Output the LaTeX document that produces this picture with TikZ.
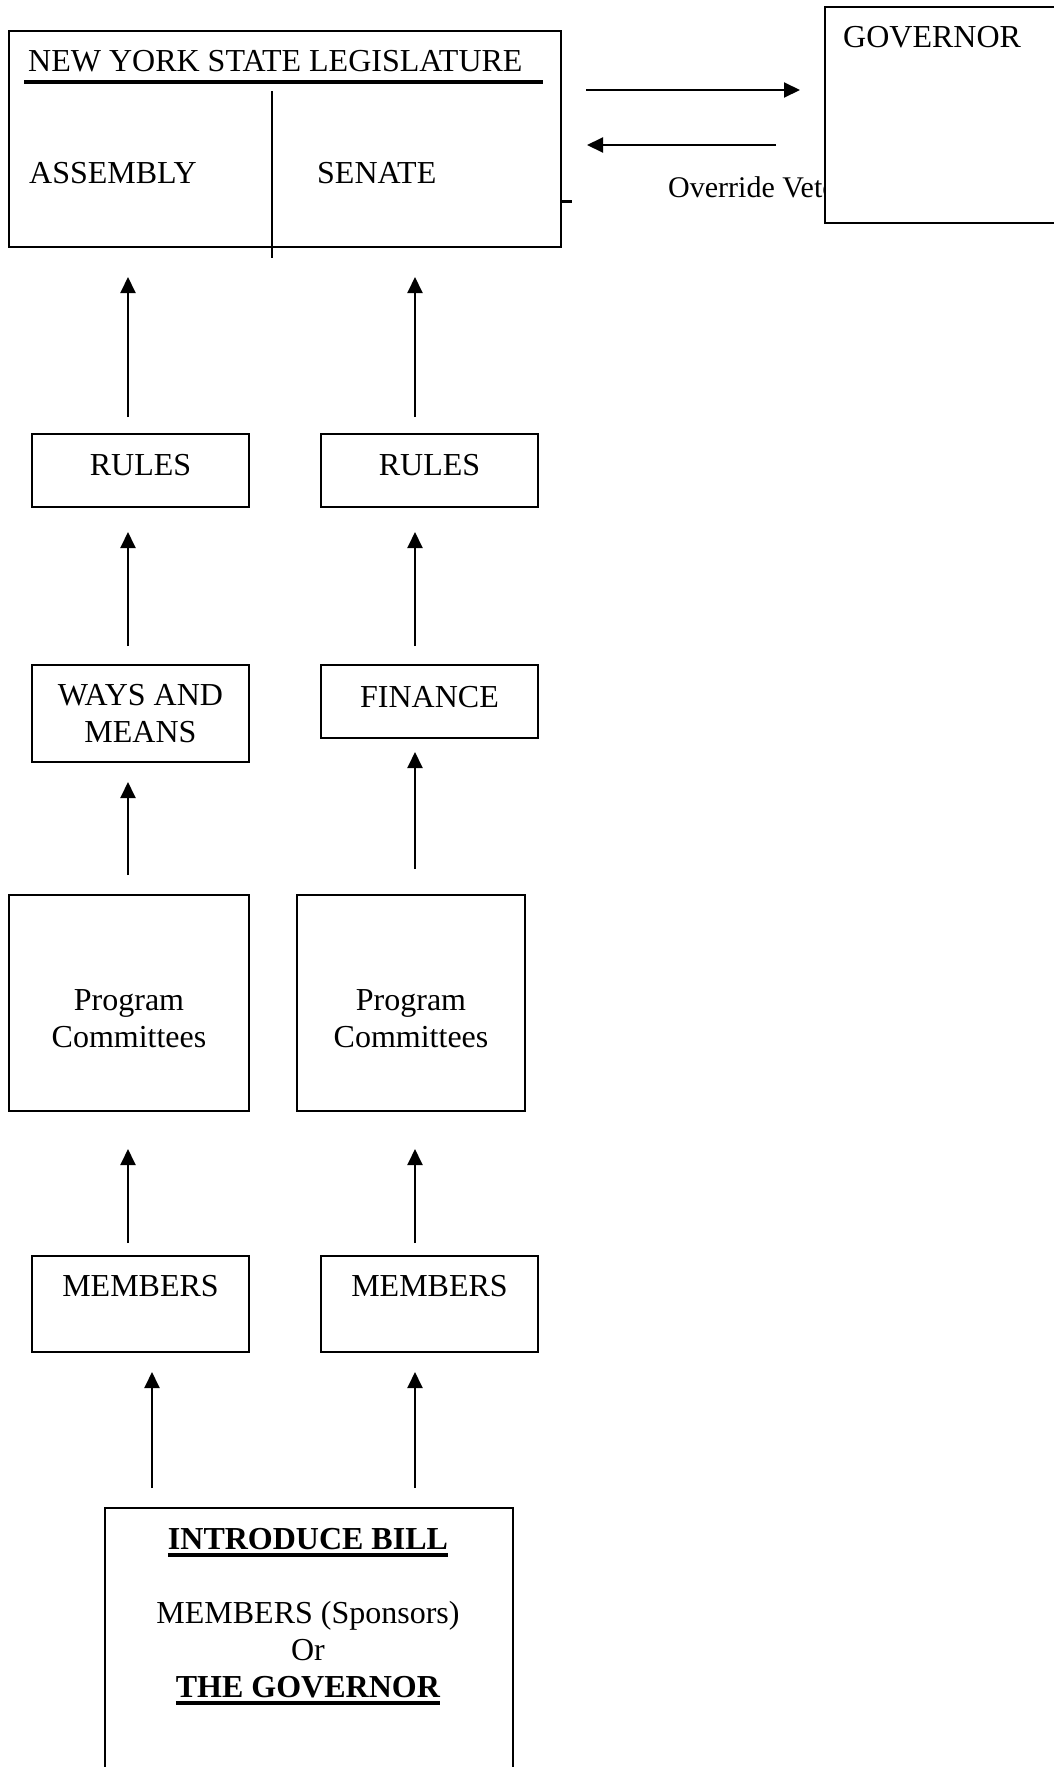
\documentclass[tikz,border=0pt]{standalone}
\usepackage{fontspec}
\setmainfont{Liberation Serif}
\usetikzlibrary{arrows.meta, positioning}
\newcommand{\thickul}[1]{\leavevmode\setbox0=\hbox{#1}\rlap{\rule[-7pt]{\wd0}{3.5pt}}\box0}
\tikzset{
  % testo
  txt/.style={font=\fontsize{32}{37}\selectfont, inner sep=0pt, align=center},
  smalltxt/.style={font=\fontsize{30}{34}\selectfont, inner sep=0pt},
  % riquadri
  box/.style={draw, line width=2pt, rectangle, inner sep=0pt, anchor=north west, txt},
  colbox/.style={box, minimum width=217pt},
  % frecce del percorso
  flow/.style={-{Triangle[length=16pt,width=15pt]}, line width=2pt},
  % tratti sparsi
  thinline/.style={line width=1.8pt},
  heavyline/.style={line width=3.5pt},
}
\begin{document}
\begin{tikzpicture}[x=1pt, y=-1pt]
  \useasboundingbox (0,0) rectangle (1054,1767);
  \fill[white] (0,0) rectangle (1054,1767);
  \coordinate (c1) at (128,0);
  \coordinate (c2) at (415,0);
  \coordinate (c3) at (152,0);
  \coordinate (r1) at (0,90);
  \coordinate (r2) at (0,145);

  \node[box, minimum width=552pt, minimum height=216pt] (leg) at (8,30) {};
  \node[txt, anchor=west] (legt) at (28,61) {NEW YORK STATE LEGISLATURE};
  \draw[heavyline] (24,82) -- (543,82);
  \draw[thinline] (272,91) -- (272,258);
  \node[txt, anchor=west] (asm) at (29,173) {ASSEMBLY};
  \node[txt, anchor=west] (sen) at (317,173) {SENATE};
  \draw[line width=3pt] (560,201) -- (572,201);

  \node[smalltxt, anchor=west] (veto) at (668,187) {Override Veto};
  \node[box, fill=white, minimum width=260pt, minimum height=216pt] (gov) at (824,6) {};
  \node[txt, anchor=west] (govt) at (843,37) {GOVERNOR};

  \node[colbox, minimum height=73pt, text depth=12pt] (rules1) at (31,433) {RULES};
  \node[colbox, minimum height=73pt, text depth=12pt] (rules2) at (320,433) {RULES};
  \node[colbox, minimum height=97pt] (wam) at (31,664) {WAYS AND\\MEANS};
  \node[colbox, minimum height=73pt, text depth=10pt] (fin) at (320,664) {FINANCE};
  \node[box, minimum width=240pt, minimum height=216pt] (pc1) at (8,894) {};
  \node[box, minimum width=228pt, minimum height=216pt] (pc2) at (296,894) {};
  \node[txt] (pc1t) at ([yshift=-16pt]pc1.center) {Program\\Committees};
  \node[txt] (pc2t) at ([yshift=-16pt]pc2.center) {Program\\Committees};
  \node[colbox, minimum height=96pt, text depth=36pt] (mem1) at (31,1255) {MEMBERS};
  \node[colbox, minimum height=96pt, text depth=36pt] (mem2) at (320,1255) {MEMBERS};
  \node[box, minimum width=408pt, minimum height=300pt] (intro) at (104,1507) {};
  \node[txt, anchor=north] (introt) at (308,1528.5) {\thickul{\textbf{INTRODUCE BILL}}\\[37pt]
    MEMBERS (Sponsors)\\Or\\\thickul{\textbf{THE GOVERNOR}}};

  \foreach \lo/\hi/\c/\a/\b in {rules1/leg/c1/16pt/29pt, rules2/leg/c2/16pt/29pt,
      wam/rules1/c1/18pt/24pt, fin/rules2/c2/18pt/24pt, pc1/wam/c1/19pt/19pt,
      pc2/fin/c2/25pt/13pt, mem1/pc1/c1/12pt/37pt, mem2/pc2/c2/12pt/37pt,
      intro/mem1/c3/19pt/19pt, intro/mem2/c2/19pt/19pt}
    \draw[flow, shorten <=\a, shorten >=\b] (\lo.north -| \c) -- (\hi.south -| \c);
  \draw[flow, shorten <=24pt, shorten >=24pt] (leg.east |- r1) -- (gov.west |- r1);
  \draw[flow, shorten <=48pt, shorten >=25pt] (gov.west |- r2) -- (leg.east |- r2);
\end{tikzpicture}
\end{document}
